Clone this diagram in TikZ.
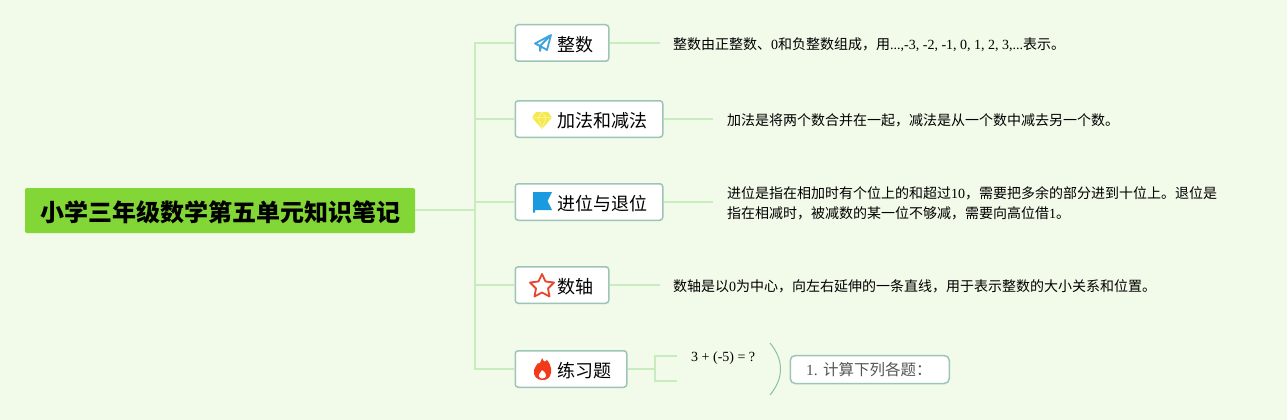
\documentclass[tikz,border=0pt]{standalone}
\usepackage{fontspec}
\setmainfont{Liberation Serif}
\newfontfamily\cjk{Noto Sans CJK SC}
\definecolor{bgc}{HTML}{F2FAE9}
\definecolor{linec}{HTML}{C9ECBE}
\definecolor{edgec}{HTML}{9CC5B8}
\definecolor{curvec}{HTML}{8FBFA8}
\definecolor{rootc}{HTML}{82D635}
\definecolor{graytext}{HTML}{555555}
\definecolor{planec}{HTML}{3FA3DC}
\definecolor{gemc}{HTML}{F6E94C}
\definecolor{flagc}{HTML}{1A9BE0}
\definecolor{starc}{HTML}{E8452F}
\definecolor{flamec}{HTML}{F2391A}
\tikzset{
  conn/.style={draw=linec,line width=1.5pt},
  topicbox/.style={draw=edgec,line width=1.5pt,fill=white,rounded corners=3pt,minimum height=36.5pt,inner sep=0pt,anchor=west},
  topiclabel/.style={anchor=west,inner sep=0pt,font=\fontsize{18pt}{20pt}\cjk,text=black},
  detail/.style={anchor=west,inner sep=0pt,font=\fontsize{14pt}{20pt}\selectfont,text=black,align=left},
}
\begin{document}
\begin{tikzpicture}[x=1pt,y=-1pt]
\useasboundingbox (0,0) rectangle (1287,420);
\fill[bgc] (0,0) rectangle (1287,420);
% root
\node[fill=rootc,rounded corners=2pt,minimum width=390pt,minimum height=45pt,inner sep=0pt] (root) at (220,210.5) {};
\node[font=\fontsize{24pt}{26pt}\cjk\bfseries,text=black,inner sep=0pt] (roottext) at (220,212) {小学三年级数学第五单元知识笔记};
% trunk
\coordinate (tk) at (475,209.9);
\coordinate (tt) at (475,43);
\coordinate (tb) at (475,369);
% boxes
\node[topicbox,minimum width=93.5pt] (a) at (514.5,43) {};
\node[topicbox,minimum width=147.5pt] (b) at (514.5,119) {};
\node[topicbox,minimum width=147.5pt] (c) at (514.5,202) {};
\node[topicbox,minimum width=93.5pt] (d) at (514.5,285) {};
\node[topicbox,minimum width=111.5pt] (e) at (514.5,369) {};
\node[topiclabel] (al) at (557,44.5) {整数};
\node[topiclabel] (bl) at (557,120.5) {加法和减法};
\node[topiclabel] (cl) at (557,203.5) {进位与退位};
\node[topiclabel] (dl) at (557,286.5) {数轴};
\node[topiclabel] (el) at (557,370.5) {练习题};
% free ends
\coordinate (ae) at (660,43);
\coordinate (be) at (713,119);
\coordinate (ce) at (713,202);
\coordinate (de) at (660,285);
\coordinate (eb) at (655,369);
\coordinate (e1) at (677,356);
\coordinate (e2) at (677,381);
% connectors
\draw[conn] (root.east |- tk) -- (tk);
\draw[conn] (a.west) -- (tt) -- (tk) -- (tb) -- (e.west);
\draw[conn] (tb |- b.west) -- (b.west);
\draw[conn] (tb |- c.west) -- (c.west);
\draw[conn] (tb |- d.west) -- (d.west);
\draw[conn] (a.east) -- (ae);
\draw[conn] (b.east) -- (be);
\draw[conn] (c.east) -- (ce);
\draw[conn] (d.east) -- (de);
\draw[conn] (e.east) -- (eb);
\draw[conn] (e1) -| (eb) |- (e2);
% details
\node[detail] (at) at (673,44.5) {{\cjk 整数由正整数、}0{\cjk 和负整数组成，用}...,-3, -2, -1, 0, 1, 2, 3,...{\cjk 表示。}};
\node[detail] (bt) at (727,120.5) {\cjk 加法是将两个数合并在一起，减法是从一个数中减去另一个数。};
\node[detail,text width=510pt] (ct) at (727,203.5) {{\cjk 进位是指在相加时有个位上的和超过}10{\cjk ，需要把多余的部分进到十位上。退位是}\\{\cjk 指在相减时，被减数的某一位不够减，需要向高位借}1{\cjk 。}};
\node[detail] (dt) at (673,286.5) {{\cjk 数轴是以}0{\cjk 为中心，向左右延伸的一条直线，用于表示整数的大小关系和位置。}};
\node[detail] (et) at (691,358.5) {3 + (-5) = ?};
% summary
\node[draw=edgec,line width=1.5pt,fill=white,rounded corners=5pt,minimum width=159pt,minimum height=28pt,inner sep=0pt,anchor=west] (s) at (789.5,369.5) {};
\node[anchor=west,inner sep=0pt,font=\fontsize{15.5pt}{18pt}\selectfont,text=graytext] (st) at (806,370) {1. {\cjk 计算下列各题：}};
\coordinate (sa) at (770,343);
\coordinate (sb) at (770,395);
\draw[draw=curvec,line width=1pt] (sa) .. controls (784,360) and (784,378) .. (sb);
% icon: paper plane
\draw[draw=planec,line width=1.8pt,line join=round] (551,35) -- (535,43.5) -- (540,46) -- (551,35) -- (547,50) -- (541,46.5) -- (540,51) -- (540,46);
% icon: diamond
\fill[gemc] (536,112) -- (548,112) -- (552,117.5) -- (542,129) -- (532,117.5) -- cycle;
\draw[white!60!gemc,line width=.5pt] (532,117.5) -- (552,117.5) (538,117.5) -- (542,129) -- (546,117.5) (538,117.5) -- (542,112) -- (546,117.5);
% icon: flag
\fill[flagc] (533,192) -- (552,192) -- (547.5,201) -- (552,210) -- (535,210) -- (535,212.5) -- (533,212.5) -- cycle;
% icon: star
\draw[draw=starc,line width=1.8pt,line join=round] (542,274) -- (545.5,281.5) -- (554,282.5) -- (548,288.5) -- (549.5,296.5) -- (542,292.5) -- (534.5,296.5) -- (536,288.5) -- (530,282.5) -- (538.5,281.5) -- cycle;
% icon: flame
\fill[flamec,even odd rule] (542,358) .. controls (544,363) and (546,362) .. (547,360) .. controls (552,366) and (552,372) .. (550,376) .. controls (548,380) and (544,380) .. (542,380) .. controls (537,380) and (533,376) .. (534,370) .. controls (534.5,367) and (537,365) .. (538,363) .. controls (539,365) and (541,362) .. (542,358) -- cycle
 (542,370) .. controls (546,372) and (547,376) .. (545,378) .. controls (543,379) and (540,379) .. (539,377) .. controls (537.5,374) and (541,373) .. (542,370) -- cycle;
\end{tikzpicture}
\end{document}
